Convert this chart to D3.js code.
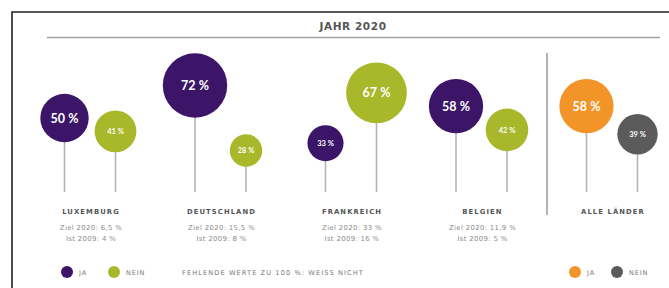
<!DOCTYPE html>
<html><head><meta charset="utf-8">
<script src="https://cdn.jsdelivr.net/npm/d3@7"></script>
<style>body{margin:0;background:#fff}svg{display:block}text{font-family:"DejaVu Sans",sans-serif}text.val{font-family:Lato,"Open Sans",sans-serif}</style>
</head><body>
<svg id="c" width="669" height="288"></svg>
<script>
const countries = ["LUXEMBURG","DEUTSCHLAND","FRANKREICH","BELGIEN","ALLE LÄNDER"];
const jaValues = [50,72,33,58,58];
const neinValues = [41,28,67,42,39];
const zielLabels = ["Ziel 2020: 6,5 %","Ziel 2020: 15,5 %","Ziel 2020: 33 %","Ziel 2020: 11,9 %",""];
const istLabels = ["Ist 2009: 4 %","Ist 2009: 8 %","Ist 2009: 16 %","Ist 2009: 5 %",""];
const title = "JAHR 2020";
const note = "FEHLENDE WERTE ZU 100 %: WEISS NICHT";

const svg = d3.select("#c");
const colJa = "#3c1568", colNein = "#a8b82a", colAllJa = "#f39428", colAllNein = "#5b5b5b";

// frame
svg.append("path").attr("d","M12,290 V12 H672").attr("fill","none").attr("stroke","#222").attr("stroke-width",1.6);
// title and rule
svg.append("text").attr("x",353).attr("y",30).attr("text-anchor","middle").attr("font-size",10.5).attr("font-weight","bold").attr("fill","#555").attr("letter-spacing",0.6).text(title);
svg.append("line").attr("x1",47).attr("x2",660).attr("y1",37.5).attr("y2",37.5).attr("stroke","#a0a0a0").attr("stroke-width",1.5);

const x = d3.scalePoint().domain(countries).range([90,612]);
const off = 25.5;
const y = d3.scaleLinear().domain([0,100]).range([192,44]);
const r = d3.scaleLinear().domain([0,100]).range([6,42.4]);

const data = [];
countries.forEach((c,i)=>{
  const all = i===countries.length-1;
  data.push({c, v:jaValues[i], dx:-off, col: all?colAllJa:colJa});
  data.push({c, v:neinValues[i], dx:off, col: all?colAllNein:colNein});
});

// divider
svg.append("line").attr("x1",547).attr("x2",547).attr("y1",53).attr("y2",215).attr("stroke","#9a9a9a").attr("stroke-width",1.5);

const g = svg.append("g");
g.selectAll("line.stem").data(data).join("line").attr("class","stem")
  .attr("x1",d=>x(d.c)+d.dx).attr("x2",d=>x(d.c)+d.dx)
  .attr("y1",d=>y(d.v)).attr("y2",y(0))
  .attr("stroke","#b4b4b4").attr("stroke-width",1.6);
g.selectAll("circle.bub").data(data).join("circle").attr("class","bub")
  .attr("cx",d=>x(d.c)+d.dx).attr("cy",d=>y(d.v)).attr("r",d=>r(d.v)).attr("fill",d=>d.col);
g.selectAll("text.val").data(data).join("text").attr("class","val")
  .attr("x",d=>x(d.c)+d.dx).attr("y",d=>y(d.v)).attr("dy","0.36em")
  .attr("text-anchor","middle").attr("fill","#fff").attr("font-weight","bold")
  .attr("font-size",d=>d.v>=50?12.5:7.5)
  .text(d=>d.v+" %");

// country labels
svg.selectAll("text.cn").data(countries).join("text").attr("class","cn")
  .attr("x",d=>x(d)+1).attr("y",214).attr("text-anchor","middle")
  .attr("font-size",6.8).attr("font-weight","bold").attr("fill","#555").attr("letter-spacing",1.1).text(d=>d);
svg.selectAll("text.ziel").data(zielLabels).join("text").attr("class","ziel")
  .attr("x",(d,i)=>x(countries[i])+1).attr("y",230).attr("text-anchor","middle")
  .attr("font-size",6.9).attr("fill","#8a8a8a").attr("letter-spacing",0.35).text(d=>d);
svg.selectAll("text.ist").data(istLabels).join("text").attr("class","ist")
  .attr("x",(d,i)=>x(countries[i])+1).attr("y",241).attr("text-anchor","middle")
  .attr("font-size",6.9).attr("fill","#8a8a8a").attr("letter-spacing",0.35).text(d=>d);

// legends
const legend = [
  {cx:67, col:colJa, t:"JA"},{cx:114, col:colNein, t:"NEIN"},
  {cx:575, col:colAllJa, t:"JA"},{cx:617, col:colAllNein, t:"NEIN"}
];
const lg = svg.selectAll("g.lg").data(legend).join("g").attr("class","lg");
lg.append("circle").attr("cx",d=>d.cx).attr("cy",272).attr("r",6).attr("fill",d=>d.col);
lg.append("text").attr("x",d=>d.cx+12).attr("y",274.5).attr("font-size",6.5).attr("fill","#777").attr("letter-spacing",0.9).text(d=>d.t);
svg.append("text").attr("x",182).attr("y",274.5).attr("font-size",6.6).attr("fill","#777").attr("letter-spacing",1.1).text(note);
</script>
</body></html>
